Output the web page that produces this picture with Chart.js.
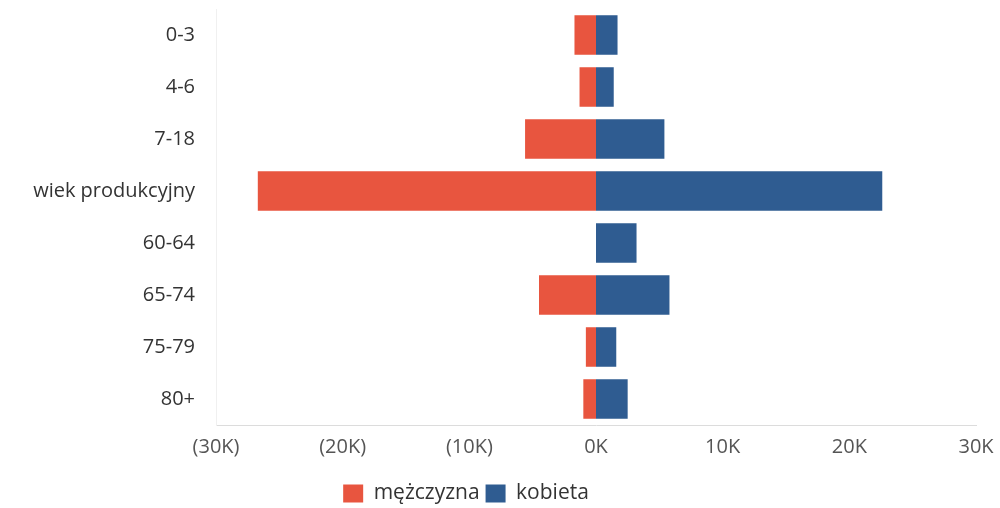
<!DOCTYPE html>
<html>
<head>
<meta charset="utf-8">
<script src="https://cdn.jsdelivr.net/npm/chart.js@4/dist/chart.umd.min.js"></script>
<style>
  html, body { margin: 0; padding: 0; background: #fff; }
  #wrap { width: 1000px; height: 508px; position: relative; }
</style>
</head>
<body>
<div id="wrap"><canvas id="piramida"></canvas></div>
<script>
// grupy wiekowe (oś Y)
const grupy = ["0-3", "4-6", "7-18", "wiek produkcyjny", "60-64", "65-74", "75-79", "80+"];
// wartości w tysiącach osób
const mezczyzni = [1.7, 1.3, 5.6, 26.7, 0, 4.5, 0.8, 1.0];
const kobiety = [1.7, 1.4, 5.4, 22.6, 3.2, 5.8, 1.6, 2.5];
const osX = [-30, -20, -10, 0, 10, 20, 30];

const kolorM = "#e8553f";
const kolorK = "#2f5c91";

// przesunięcie legendy (w lewo i trochę w dół), jak na oryginale
const przesunLegende = {
    id: "przesunLegende",
    afterLayout(chart) {
        chart.legend.right -= 44;
        chart.legend.top += 6;
        chart.legend.bottom += 6;
    }
};

const ctx = document.getElementById("piramida").getContext("2d");
new Chart(ctx, {
    type: "bar",
    data: {
        labels: grupy,
        datasets: [
            { label: "mężczyzna", data: mezczyzni.map(v => -v * 1000), backgroundColor: kolorM },
            { label: "kobieta", data: kobiety.map(v => v * 1000), backgroundColor: kolorK }
        ]
    },
    options: {
        indexAxis: "y",
        responsive: true,
        maintainAspectRatio: false,
        animation: false,
        layout: { padding: { top: 9, right: 24, left: 0, bottom: 0 } },
        scales: {
            x: {
                stacked: true,
                min: -30000,
                max: 30000,
                afterBuildTicks: s => { s.ticks = osX.map(v => ({ value: v * 1000 })); },
                afterFit: s => { s.height = 46; },
                grid: { display: false },
                border: { display: true, color: "#dcdcdc", dash: [2, 2] },
                ticks: {
                    color: "#555",
                    font: { family: "Open Sans", size: 20 },
                    padding: 2,
                    maxRotation: 0,
                    callback: v => v < 0 ? "(" + Math.abs(v / 1000) + "K)" : (v / 1000) + "K"
                }
            },
            y: {
                stacked: true,
                grid: { display: false },
                border: { display: true, color: "#f0f0f0" },
                afterFit: s => { s.width = 216; s.paddingTop = 0; s.paddingBottom = 0; },
                ticks: {
                    color: "#333",
                    font: { family: "Open Sans", size: 20 },
                    padding: 13
                }
            }
        },
        datasets: { bar: { categoryPercentage: 1, barPercentage: 0.76 } },
        plugins: {
            legend: {
                position: "bottom",
                labels: {
                    color: "#333",
                    font: { family: "Open Sans", size: 21 },
                    boxWidth: 20,
                    boxHeight: 18,
                    padding: 6
                }
            },
            tooltip: { enabled: false }
        }
    },
    plugins: [przesunLegende]
});
</script>
</body>
</html>
